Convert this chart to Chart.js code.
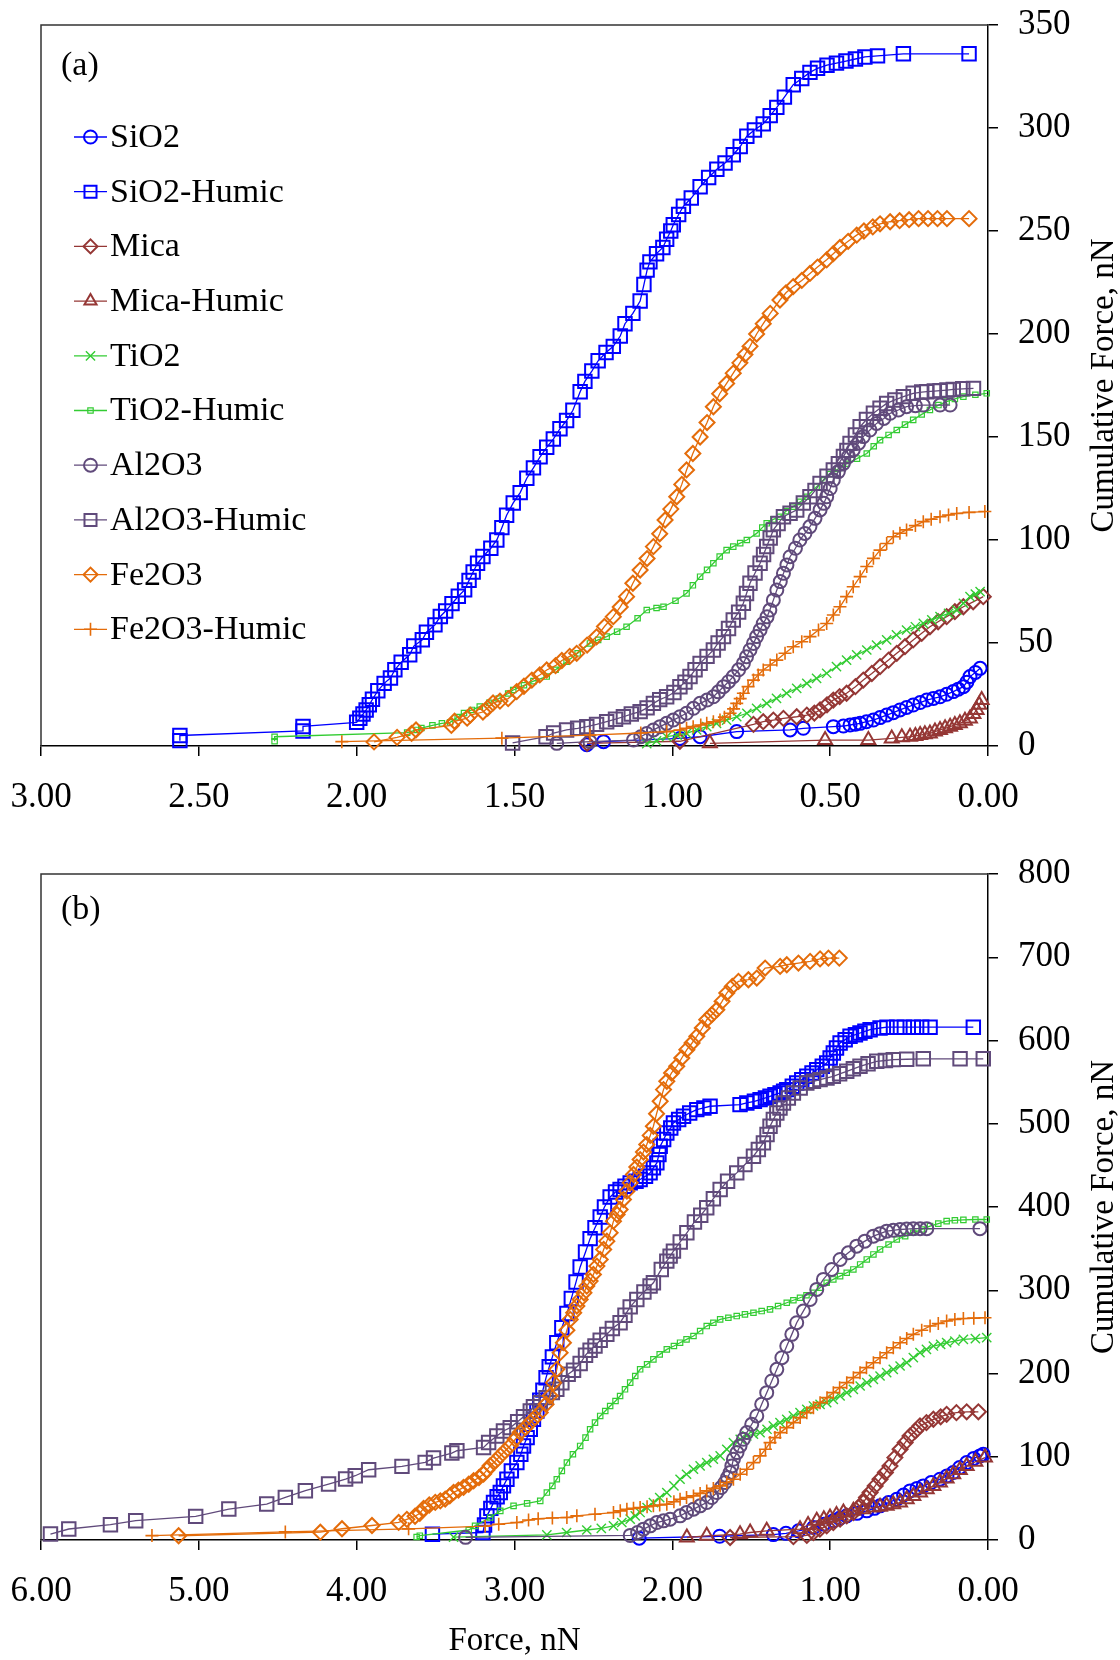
<!DOCTYPE html>
<html><head><meta charset="utf-8">
<script src="https://cdn.jsdelivr.net/npm/chart.js@4/dist/chart.umd.min.js"></script>
<style>
html,body{margin:0;padding:0;background:#fff;}
#wrap{position:relative;width:1120px;height:1660px;background:#fff;}
canvas{position:absolute;left:0;}
#ca{top:0;} #cb{top:840px;}
</style></head><body>
<div id="wrap"><canvas id="ca" width="1120" height="840"></canvas><canvas id="cb" width="1120" height="820"></canvas></div>
<script>
// ---------- categories / labels ----------
const seriesNames = ['SiO2','SiO2-Humic','Mica','Mica-Humic','TiO2','TiO2-Humic','Al2O3','Al2O3-Humic','Fe2O3','Fe2O3-Humic'];
const xTicksA = [0,0.5,1,1.5,2,2.5,3];
const yTicksA = [0,50,100,150,200,250,300,350];
const xTicksB = [0,1,2,3,4,5,6];
const yTicksB = [0,100,200,300,400,500,600,700,800];
const xTitle = 'Force, nN';
const yTitle = 'Cumulative Force, nN';
const panelLabels = ['(a)','(b)'];

// ---------- panel (a) data: [force, cumulative force] ----------
const a_SiO2 = [[1.271,0.6],[1.218,2.1],[0.976,3.7],[0.912,4.5],[0.796,7],[0.627,7.8],[0.585,8.6],[0.49,9.4],[0.458,9.7],[0.437,10.2],[0.42,10.6],[0.405,11],[0.385,11.8],[0.363,12.6],[0.342,13.8],[0.321,15],[0.30,16.2],[0.279,17.5],[0.258,18.7],[0.237,19.9],[0.215,21.1],[0.194,22.3],[0.173,23.1],[0.152,23.9],[0.131,25.1],[0.110,26.4],[0.094,27.6],[0.078,28.8],[0.067,31],[0.057,33.7],[0.04,35.7],[0.025,37.7]];
const a_SiO2_Humic = [[2.56,2.6],[2.56,5.1],[2.17,7.3],[2.17,9.5],[2.00,11.5],[1.99,13.5],[1.98,15.5],[1.97,17.5],[1.96,20],[1.95,22.7],[1.933,26.8],[1.913,30.4],[1.893,33],[1.879,37],[1.859,40.7],[1.832,44.3],[1.819,48.5],[1.792,51.6],[1.779,55.2],[1.752,58.8],[1.735,62.9],[1.718,65.5],[1.698,69.1],[1.678,72.7],[1.658,75.8],[1.644,80.4],[1.631,84.5],[1.617,88.7],[1.60,92],[1.575,96],[1.556,100],[1.54,106],[1.525,112],[1.504,118],[1.482,123],[1.461,130],[1.44,135],[1.419,140.4],[1.398,145],[1.377,149],[1.356,154],[1.335,158],[1.315,163],[1.292,172],[1.277,177],[1.255,182],[1.235,187],[1.21,191],[1.187,194],[1.165,199],[1.15,205],[1.125,210],[1.102,216],[1.09,224],[1.08,231],[1.071,235],[1.05,239],[1.03,242],[1.018,246],[1.005,250],[0.997,253],[0.98,258],[0.965,262],[0.94,266],[0.912,271.5],[0.885,276],[0.859,280],[0.833,283],[0.807,287],[0.785,291],[0.764,296],[0.74,299],[0.712,302],[0.69,306],[0.669,310],[0.645,315],[0.617,321],[0.59,324],[0.564,327],[0.54,329],[0.51,330.5],[0.48,331.5],[0.45,332.5],[0.42,333.5],[0.39,334.5],[0.35,335],[0.268,336],[0.06,336]];
const a_Mica = [[1.27,1.3],[0.976,2.3],[0.743,10.5],[0.712,11.8],[0.68,12.6],[0.648,13.4],[0.606,14.2],[0.574,15],[0.55,16],[0.532,17.5],[0.51,20],[0.490,22.3],[0.47,24],[0.448,25.6],[0.42,28.8],[0.395,32],[0.368,35.2],[0.342,38.5],[0.315,41.7],[0.289,45],[0.263,48.2],[0.237,51.5],[0.21,54.7],[0.184,57.9],[0.158,60.3],[0.131,62.8],[0.105,65.2],[0.078,67.6],[0.047,70],[0.015,72.5]];
const a_Mica_Humic = [[0.881,1.3],[0.516,2.9],[0.379,2.9],[0.305,3.7],[0.273,4.2],[0.247,4.5],[0.23,4.9],[0.215,5.3],[0.2,5.7],[0.184,6.1],[0.168,7],[0.152,7.8],[0.136,8.6],[0.120,9.4],[0.105,10.2],[0.089,11],[0.073,12.2],[0.057,13.4],[0.046,15.5],[0.036,17.5],[0.028,20],[0.020,22.3]];
const a_TiO2 = [[1.081,1.1],[1.05,2.5],[1.018,4.5],[0.985,5.3],[0.955,6.1],[0.923,7.8],[0.891,9.4],[0.86,11],[0.828,12.6],[0.796,14.2],[0.764,15.9],[0.733,18.3],[0.701,20.7],[0.67,23.1],[0.638,25.6],[0.606,28],[0.574,30.4],[0.543,32.8],[0.511,35.3],[0.48,38.5],[0.448,41.7],[0.416,44.2],[0.384,46.6],[0.353,49],[0.321,51.5],[0.29,53.9],[0.258,56.3],[0.23,57.9],[0.205,59.5],[0.178,61.2],[0.152,62.8],[0.125,64.4],[0.099,66],[0.078,69.3],[0.057,72.5],[0.04,73.7],[0.025,74.9]];
const a_TiO2_Humic = [[2.26,2.3],[2.26,4.5],[1.84,6.5],[1.81,7.8],[1.795,8.7],[1.76,10],[1.73,11],[1.704,11.5],[1.68,14],[1.66,16],[1.635,17.5],[1.61,19.1],[1.58,21],[1.55,23],[1.52,25.5],[1.504,27.2],[1.47,29.5],[1.44,31.5],[1.398,33.7],[1.37,37],[1.335,40.9],[1.30,45],[1.261,49.8],[1.235,51.5],[1.208,53.1],[1.175,55.5],[1.145,57.9],[1.11,62],[1.081,66],[1.05,67],[1.028,67.6],[0.99,70.5],[0.955,74.1],[0.935,78],[0.912,82.2],[0.89,85.5],[0.87,88.7],[0.85,92],[0.828,95.1],[0.807,96.8],[0.785,98.5],[0.764,100],[0.733,103.2],[0.715,106],[0.701,108.1],[0.68,110],[0.659,111.3],[0.64,114],[0.617,116.2],[0.595,118.5],[0.574,121],[0.543,125.9],[0.52,129],[0.50,132],[0.475,134.5],[0.448,137],[0.415,139.5],[0.384,142],[0.362,145.5],[0.342,148.5],[0.315,151],[0.289,153.4],[0.263,156],[0.237,158.3],[0.21,161],[0.184,163.1],[0.157,165.5],[0.131,167.2],[0.105,168.5],[0.078,169.6],[0.04,170.5],[0.004,171.2]];
const a_Al2O3 = [[1.366,1.3],[1.261,2.1],[1.123,2.9],[1.10,4.5],[1.081,6.1],[1.06,7.8],[1.039,9.4],[1.018,11],[0.997,12.6],[0.976,14.2],[0.955,15.9],[0.933,18.3],[0.912,20.7],[0.89,22.3],[0.870,23.9],[0.854,26.3],[0.838,28.8],[0.822,31.2],[0.807,33.7],[0.79,37],[0.775,40.1],[0.765,43.3],[0.754,46.6],[0.743,49.8],[0.733,53.1],[0.722,56.3],[0.712,59.5],[0.70,62.7],[0.691,66],[0.68,70.8],[0.669,75.7],[0.658,79.8],[0.648,83.8],[0.637,87.9],[0.627,91.9],[0.61,96],[0.596,100],[0.58,103.2],[0.564,106.5],[0.548,110.5],[0.532,114.6],[0.52,117.8],[0.511,121],[0.50,125],[0.490,129.1],[0.474,133.2],[0.458,137.2],[0.442,140.5],[0.427,143.7],[0.41,147],[0.395,150.2],[0.374,153.4],[0.353,156.6],[0.33,159],[0.310,161.5],[0.284,163.1],[0.258,164.7],[0.23,165.2],[0.205,165.5],[0.152,165.5],[0.120,165.5]];
const a_Al2O3_Humic = [[1.506,1.5],[1.40,4.5],[1.376,6.3],[1.335,7.8],[1.30,8.6],[1.271,9.4],[1.24,10.5],[1.208,11.8],[1.18,13],[1.155,14.2],[1.13,15.5],[1.102,16.7],[1.08,18.5],[1.06,20.7],[1.04,22.5],[1.018,23.9],[0.995,26],[0.976,28.8],[0.96,31],[0.944,33.7],[0.928,37],[0.912,40.1],[0.89,43.5],[0.87,46.6],[0.855,50],[0.838,53.1],[0.822,57],[0.807,61.2],[0.79,65],[0.775,69.3],[0.765,74],[0.754,79],[0.738,84],[0.722,88.7],[0.711,93],[0.701,96.8],[0.69,101],[0.68,104.9],[0.665,108],[0.648,111.3],[0.627,113],[0.606,114.6],[0.585,118],[0.564,121],[0.548,124],[0.532,127.5],[0.51,131],[0.49,134],[0.474,137],[0.458,140.5],[0.447,143.5],[0.437,146.9],[0.42,151],[0.405,155],[0.385,158.5],[0.363,161.5],[0.342,164],[0.321,166.3],[0.295,168],[0.268,169.6],[0.237,171.2],[0.21,171.8],[0.194,172],[0.17,172.3],[0.152,172.5],[0.13,172.8],[0.110,173.1],[0.08,173.4],[0.046,173.6]];
const a_Fe2O3 = [[1.945,2],[1.872,4.2],[1.826,6.1],[1.812,7.8],[1.70,10],[1.69,12],[1.65,13.5],[1.64,15],[1.60,16.5],[1.585,18.4],[1.568,20.9],[1.546,21.8],[1.52,23],[1.493,26.4],[1.47,29],[1.445,32],[1.42,34.5],[1.398,36.9],[1.37,39],[1.35,41.5],[1.325,43.5],[1.303,45],[1.27,49],[1.24,53],[1.215,58],[1.187,62.8],[1.165,67.5],[1.145,72.5],[1.125,79],[1.102,85.4],[1.08,91],[1.06,96.8],[1.04,103],[1.023,109.7],[1.005,115],[0.986,121],[0.97,127],[0.955,134],[0.935,142],[0.912,150],[0.89,157],[0.87,164.7],[0.85,171],[0.828,176],[0.807,181],[0.786,186],[0.77,190],[0.754,194],[0.733,200],[0.712,205],[0.69,210],[0.659,216.5],[0.64,220],[0.617,223],[0.59,226],[0.564,229.4],[0.54,232.5],[0.511,236],[0.49,239],[0.469,242],[0.443,245],[0.416,248],[0.393,250],[0.365,252],[0.342,253.5],[0.31,254.5],[0.28,255],[0.25,255.5],[0.22,256],[0.19,256],[0.16,256],[0.13,256],[0.06,256]];
const a_Fe2O3_Humic = [[2.047,2.1],[1.54,3.8],[1.261,5.3],[1.10,6.3],[1.018,7],[0.976,7.8],[0.955,8.6],[0.934,9.4],[0.91,10.2],[0.891,11],[0.87,11.8],[0.849,12.6],[0.835,14],[0.817,15.9],[0.806,18],[0.796,20.7],[0.785,23],[0.775,25.6],[0.76,28.8],[0.743,32],[0.728,34.5],[0.712,36.9],[0.69,39.3],[0.669,41.7],[0.643,45],[0.617,48.2],[0.59,50.6],[0.564,53.1],[0.537,56.3],[0.511,59.5],[0.49,63.6],[0.469,67.6],[0.448,72.5],[0.427,77.3],[0.405,82.2],[0.384,87.1],[0.363,91.1],[0.342,95.1],[0.321,98.3],[0.300,101.6],[0.279,103.3],[0.258,104.9],[0.23,107],[0.205,108.9],[0.18,110.1],[0.152,111.3],[0.125,112.1],[0.099,112.9],[0.06,113.4],[0.01,113.8]];

// ---------- panel (b) data ----------
const b_SiO2 = [[2.21,2.2],[1.70,4.5],[1.36,6.5],[1.28,8],[1.20,11],[1.106,15],[1.04,19],[0.98,23],[0.94,26],[0.895,29],[0.83,32],[0.768,35],[0.72,38],[0.684,41],[0.63,45],[0.578,49],[0.535,54],[0.494,59],[0.45,62],[0.41,65],[0.36,69],[0.304,73],[0.26,77],[0.22,81],[0.18,87],[0.135,93],[0.09,98],[0.051,101],[0.03,103]];
const b_SiO2_Humic = [[3.52,7],[3.20,9],[3.19,18],[3.175,29],[3.15,38],[3.133,45],[3.11,52],[3.09,57],[3.07,65],[3.048,73],[3.02,83],[2.985,93],[2.96,103],[2.943,113],[2.92,123],[2.90,133],[2.88,145],[2.858,155],[2.84,168],[2.82,180],[2.80,195],[2.78,208],[2.76,220],[2.732,237],[2.70,255],[2.668,272],[2.64,290],[2.61,310],[2.584,328],[2.55,346],[2.521,362],[2.49,375],[2.457,388],[2.43,400],[2.394,412],[2.36,418],[2.331,421],[2.30,425],[2.267,429],[2.23,431],[2.204,433],[2.17,437],[2.141,441],[2.12,447],[2.098,453],[2.085,463],[2.077,473],[2.055,481],[2.035,489],[2.01,495],[1.993,501],[1.96,505],[1.929,509],[1.89,513],[1.845,517],[1.80,519],[1.761,521],[1.571,523],[1.528,525],[1.48,527],[1.444,529],[1.41,531],[1.381,533],[1.35,535],[1.317,537],[1.295,539],[1.275,541],[1.24,545],[1.212,549],[1.18,553],[1.148,557],[1.115,561],[1.085,565],[1.05,569],[1.022,573],[1.00,579],[0.98,585],[0.96,591],[0.937,597],[0.905,601],[0.874,605],[0.84,607],[0.811,609],[0.78,611],[0.747,613],[0.684,615],[0.64,616],[0.578,616],[0.53,616],[0.473,616],[0.42,616],[0.367,616],[0.093,616]];
const b_Mica = [[1.634,3],[1.233,4],[1.148,5.5],[1.106,9],[1.065,13],[1.022,17],[0.98,21],[0.937,25],[0.895,29],[0.853,33],[0.82,39],[0.79,45],[0.77,51],[0.747,57],[0.715,65],[0.684,73],[0.65,81],[0.621,89],[0.59,99],[0.557,109],[0.525,117],[0.494,125],[0.46,131],[0.431,137],[0.39,141],[0.346,145],[0.30,148],[0.262,151],[0.2,153],[0.135,154],[0.061,154]];
const b_Mica_Humic = [[1.908,3],[1.782,5],[1.571,7],[1.507,9],[1.402,11],[1.191,13],[1.14,18],[1.085,23],[1.04,25],[1.001,27],[0.96,30],[0.916,33],[0.853,35],[0.79,37],[0.726,39],[0.684,40],[0.642,41],[0.60,43],[0.557,45],[0.515,49],[0.473,53],[0.43,57],[0.388,61],[0.346,65],[0.304,69],[0.262,74],[0.22,79],[0.178,84],[0.135,89],[0.08,94],[0.019,99]];
const b_TiO2 = [[3.386,3.4],[2.795,6.2],[2.67,9],[2.542,12],[2.45,14],[2.373,17],[2.32,21],[2.267,25],[2.235,29],[2.204,33],[2.16,39],[2.12,45],[2.08,51],[2.035,57],[1.99,65],[1.951,73],[1.91,79],[1.866,85],[1.824,89],[1.782,93],[1.74,97],[1.697,101],[1.655,109],[1.613,117],[1.57,121],[1.528,125],[1.486,127],[1.444,129],[1.40,133],[1.36,137],[1.318,141],[1.275,145],[1.233,149],[1.191,153],[1.148,157],[1.106,161],[1.064,163],[1.022,165],[0.98,169],[0.937,173],[0.895,177],[0.853,181],[0.81,185],[0.768,189],[0.726,193],[0.684,197],[0.642,201],[0.60,205],[0.557,209],[0.515,213],[0.473,219],[0.431,225],[0.39,229],[0.346,233],[0.30,235],[0.262,237],[0.21,239],[0.156,241],[0.08,242],[0.008,243]];
const b_TiO2_Humic = [[3.62,3.6],[3.60,5.2],[3.29,12],[3.25,17],[3.154,27],[3.09,35],[3.006,41],[2.92,44],[2.837,47],[2.795,57],[2.76,65],[2.732,73],[2.70,83],[2.668,93],[2.63,103],[2.584,113],[2.55,123],[2.521,133],[2.49,141],[2.457,149],[2.425,155],[2.394,161],[2.36,167],[2.331,173],[2.30,181],[2.267,189],[2.235,197],[2.204,205],[2.16,211],[2.12,217],[2.08,223],[2.035,229],[1.99,233],[1.951,237],[1.91,241],[1.866,245],[1.824,251],[1.782,257],[1.74,261],[1.697,265],[1.645,267],[1.592,269],[1.54,271],[1.486,273],[1.434,275],[1.381,277],[1.33,281],[1.275,285],[1.233,288],[1.191,291],[1.15,294],[1.106,297],[1.064,303],[1.022,309],[0.98,313],[0.937,317],[0.895,321],[0.853,325],[0.81,331],[0.768,337],[0.726,343],[0.684,349],[0.63,355],[0.578,361],[0.525,365],[0.473,369],[0.42,373],[0.367,377],[0.315,380],[0.262,383],[0.21,384],[0.156,384.5],[0.08,385],[0.008,385]];
const b_Al2O3 = [[3.31,3.2],[2.267,5.5],[2.22,9],[2.183,13],[2.14,17],[2.098,21],[2.056,23],[2.014,25],[1.951,29],[1.91,33],[1.866,37],[1.824,41],[1.782,45],[1.75,51],[1.718,57],[1.69,63],[1.666,69],[1.65,75],[1.634,81],[1.623,89],[1.613,97],[1.59,105],[1.571,113],[1.55,121],[1.528,129],[1.497,139],[1.465,149],[1.434,163],[1.402,177],[1.37,191],[1.338,205],[1.306,219],[1.275,233],[1.243,247],[1.212,261],[1.17,275],[1.127,289],[1.085,301],[1.043,313],[0.99,325],[0.937,337],[0.885,345],[0.832,353],[0.78,359],[0.726,365],[0.684,368],[0.642,371],[0.60,372],[0.557,373],[0.515,373.5],[0.473,374],[0.43,374],[0.388,374],[0.051,374]];
const b_Al2O3_Humic = [[5.94,7.2],[5.824,13.2],[5.56,18.4],[5.40,23.2],[5.02,28.4],[4.81,37.2],[4.57,43.2],[4.452,51.2],[4.325,59.2],[4.178,67.2],[4.07,73.2],[4.009,77.2],[3.924,84.4],[3.713,88.4],[3.566,93.2],[3.513,98.4],[3.397,104.4],[3.365,107.2],[3.196,111.2],[3.164,117.2],[3.112,125],[3.07,131],[3.027,135],[2.98,142],[2.943,148],[2.90,155],[2.88,160],[2.837,165],[2.80,171],[2.76,177],[2.732,181],[2.70,189],[2.66,199],[2.626,204],[2.584,212],[2.55,222],[2.521,228],[2.49,233],[2.457,240],[2.415,247],[2.38,254],[2.331,261],[2.30,270],[2.267,280],[2.225,289],[2.18,298],[2.141,305],[2.12,309],[2.07,325],[2.035,335],[2.014,341],[1.993,347],[1.95,358],[1.908,369],[1.86,382],[1.82,390],[1.782,399],[1.74,410],[1.697,421],[1.65,431],[1.592,441],[1.54,451],[1.486,461],[1.455,469],[1.423,477],[1.40,487],[1.381,497],[1.36,505],[1.338,513],[1.318,519],[1.296,525],[1.265,531],[1.233,537],[1.19,543],[1.148,549],[1.106,551],[1.064,553],[1.02,555],[0.98,557],[0.94,560],[0.895,563],[0.853,566],[0.811,569],[0.76,572],[0.705,575],[0.65,576],[0.6,577],[0.515,577.5],[0.41,578],[0.177,578],[0.03,578]];
const b_Fe2O3 = [[5.128,5.1],[4.23,9.4],[4.093,13.5],[3.903,17.4],[3.734,21.1],[3.682,24.8],[3.63,28.5],[3.60,32],[3.576,38],[3.54,42],[3.502,45.2],[3.47,47],[3.439,49.2],[3.41,53],[3.386,57.2],[3.355,60],[3.323,63.2],[3.29,67],[3.259,71.2],[3.225,75],[3.196,79.2],[3.175,84],[3.154,89.2],[3.12,95],[3.09,101.2],[3.06,107],[3.027,113.2],[2.995,121],[2.964,129.2],[2.93,135],[2.9,141.2],[2.87,147],[2.837,153.2],[2.80,163],[2.774,173.2],[2.753,189],[2.732,205],[2.711,225],[2.69,237],[2.668,252],[2.647,265],[2.625,273],[2.605,281],[2.584,289],[2.56,297],[2.542,305],[2.521,311],[2.50,319],[2.478,329],[2.457,337],[2.435,349],[2.415,359],[2.394,369],[2.373,383],[2.35,391],[2.331,397],[2.31,409],[2.288,419],[2.267,429],[2.246,439],[2.225,448],[2.204,457],[2.183,466],[2.162,475],[2.14,486],[2.12,497],[2.10,512],[2.077,527],[2.056,541],[2.035,551],[2.005,561],[1.972,569],[1.94,579],[1.908,589],[1.875,597],[1.845,605],[1.81,615],[1.782,625],[1.75,631],[1.718,637],[1.685,647],[1.655,657],[1.62,665],[1.581,671],[1.518,673],[1.465,675],[1.412,687],[1.317,689],[1.275,691],[1.201,693],[1.127,695],[1.064,698],[1.011,699],[0.942,699]];
const b_Fe2O3_Humic = [[5.297,5.3],[4.452,9.7],[3.671,13.4],[3.186,16.6],[3.10,19],[2.985,21],[2.911,24],[2.85,25.5],[2.76,26.5],[2.668,27],[2.605,29],[2.49,31],[2.373,33],[2.33,35],[2.288,37],[2.246,38],[2.204,39],[2.16,40],[2.12,41],[2.08,42],[2.035,43],[1.99,46],[1.951,49],[1.91,51],[1.866,53],[1.824,56],[1.782,59],[1.74,62],[1.697,65],[1.655,69],[1.613,73],[1.57,79],[1.528,85],[1.486,93],[1.444,101],[1.41,109],[1.381,117],[1.35,123],[1.317,129],[1.275,135],[1.233,141],[1.19,147],[1.148,153],[1.106,159],[1.064,165],[1.02,171],[0.98,177],[0.94,183],[0.895,189],[0.853,195],[0.811,201],[0.77,207],[0.726,213],[0.684,219],[0.642,225],[0.60,231],[0.557,237],[0.515,242],[0.473,247],[0.42,252],[0.367,257],[0.315,260],[0.262,263],[0.21,265],[0.156,266],[0.09,266.5],[0.019,267]];

const panelA = [a_SiO2,a_SiO2_Humic,a_Mica,a_Mica_Humic,a_TiO2,a_TiO2_Humic,a_Al2O3,a_Al2O3_Humic,a_Fe2O3,a_Fe2O3_Humic];
const panelB = [b_SiO2,b_SiO2_Humic,b_Mica,b_Mica_Humic,b_TiO2,b_TiO2_Humic,b_Al2O3,b_Al2O3_Humic,b_Fe2O3,b_Fe2O3_Humic];

// ---------- styles ----------
const STYLE = [
  {color:'#0000FF', shape:'circle',   r:6.5, bw:2},
  {color:'#0000FF', shape:'rect',     r:9.5, bw:2},
  {color:'#953735', shape:'rectRot',  r:7.5, bw:2},
  {color:'#953735', shape:'triangle', r:8,   bw:2},
  {color:'#33CC33', shape:'crossRot', r:6.5, bw:1.4},
  {color:'#33CC33', shape:'rect',     r:3.8, bw:1.2},
  {color:'#604A7B', shape:'circle',   r:6.5, bw:2},
  {color:'#604A7B', shape:'rect',     r:9.5, bw:2},
  {color:'#E46C0A', shape:'rectRot',  r:7.5, bw:2},
  {color:'#E46C0A', shape:'cross',    r:6.5, bw:1.6}
];
const FONT = "'Liberation Serif', 'Times New Roman', serif";

function drawMarker(ctx, shape, x, y, r) {
  ctx.beginPath();
  if (shape === 'circle') { ctx.arc(x, y, r, 0, Math.PI * 2); }
  else if (shape === 'rect') { const s = r * Math.SQRT1_2; ctx.rect(x - s, y - s, 2 * s, 2 * s); }
  else if (shape === 'rectRot') { ctx.moveTo(x - r, y); ctx.lineTo(x, y - r); ctx.lineTo(x + r, y); ctx.lineTo(x, y + r); ctx.closePath(); }
  else if (shape === 'triangle') { const a = 2 * Math.PI / 3; ctx.moveTo(x, y - r); ctx.lineTo(x + Math.sin(a) * r, y - Math.cos(a) * r); ctx.lineTo(x + Math.sin(2 * a) * r, y - Math.cos(2 * a) * r); ctx.closePath(); }
  else if (shape === 'cross') { ctx.moveTo(x - r, y); ctx.lineTo(x + r, y); ctx.moveTo(x, y - r); ctx.lineTo(x, y + r); }
  else if (shape === 'crossRot') { const d = r * Math.SQRT1_2; ctx.moveTo(x - d, y - d); ctx.lineTo(x + d, y + d); ctx.moveTo(x - d, y + d); ctx.lineTo(x + d, y - d); }
  ctx.stroke();
}

function makeDatasets(panel) {
  return panel.map((arr, i) => ({
    label: seriesNames[i],
    data: arr.map(p => ({x: p[0], y: p[1]})),
    showLine: true,
    borderColor: STYLE[i].color,
    borderWidth: 1.3,
    pointStyle: STYLE[i].shape,
    pointRadius: STYLE[i].r,
    pointBorderWidth: STYLE[i].bw,
    pointBorderColor: STYLE[i].color,
    pointBackgroundColor: 'rgba(0,0,0,0)',
    pointHoverRadius: STYLE[i].r,
    tension: 0,
    clip: false,
    order: 20 - i
  }));
}

function framePlugin(opts) {
  return {
    id: 'frame',
    afterDraw(chart) {
      const ctx = chart.ctx, ca = chart.chartArea;
      ctx.save();
      ctx.strokeStyle = '#333'; ctx.lineWidth = 1.5;
      ctx.beginPath();
      ctx.moveTo(ca.left, ca.bottom); ctx.lineTo(ca.left, ca.top); ctx.lineTo(ca.right, ca.top);
      ctx.stroke();
      ctx.fillStyle = '#000';
      ctx.font = '34px ' + FONT;
      ctx.textAlign = 'left'; ctx.textBaseline = 'middle';
      ctx.fillText(opts.label, 61, opts.labelY);
      ctx.save();
      ctx.translate(1104, (ca.top + ca.bottom) / 2);
      ctx.rotate(-Math.PI / 2);
      ctx.textAlign = 'center'; ctx.textBaseline = 'middle';
      ctx.font = '33px ' + FONT;
      ctx.fillText(yTitle, 0, 0);
      ctx.restore();
      if (opts.xTitle) {
        ctx.textAlign = 'center'; ctx.textBaseline = 'middle';
        ctx.font = '33px ' + FONT;
        ctx.fillText(xTitle, (ca.left + ca.right) / 2, opts.xTitleY);
      }
      if (opts.legend) {
        const x0 = 74, x1 = 107, xm = 90.5, tx = 110, y0 = 137, dy = 54.7;
        seriesNames.forEach((name, i) => {
          const y = y0 + i * dy, st = STYLE[i];
          ctx.strokeStyle = st.color; ctx.lineWidth = 1.3;
          ctx.beginPath(); ctx.moveTo(x0, y); ctx.lineTo(x1, y); ctx.stroke();
          ctx.lineWidth = st.bw;
          drawMarker(ctx, st.shape, xm, y, st.shape === 'rect' && st.r > 5 ? 8.5 : Math.min(st.r, 7));
          ctx.fillStyle = '#000';
          ctx.font = '34px ' + FONT;
          ctx.textAlign = 'left'; ctx.textBaseline = 'middle';
          ctx.fillText(name, tx, y + 1);
        });
      }
      ctx.restore();
    }
  };
}

function makeChart(id, datasets, xTicks, yTicks, xMax, yMax, padTop, xAxisH, plugOpts) {
  return new Chart(document.getElementById(id), {
    type: 'scatter',
    data: {datasets},
    options: {
      responsive: false, animation: false, devicePixelRatio: 1,
      layout: {padding: {left: 41, top: padTop, right: 0, bottom: 0}},
      plugins: {legend: {display: false}, tooltip: {enabled: false}},
      events: [],
      scales: {
        x: {
          type: 'linear', position: 'bottom', reverse: true, min: 0, max: xMax,
          afterBuildTicks: s => { s.ticks = xTicks.map(v => ({value: v})); },
          afterFit: s => { s.height = xAxisH; s.paddingLeft = 0; s.paddingRight = 0; },
          grid: {display: true, drawOnChartArea: false, drawTicks: true, tickLength: 10, color: '#000', lineWidth: 1.5},
          border: {display: true, color: '#000', width: 1.5},
          ticks: {autoSkip: false, maxRotation: 0, padding: 21, color: '#000',
                  font: {family: FONT, size: 35}, callback: v => Number(v).toFixed(2)}
        },
        y: {
          type: 'linear', position: 'right', min: 0, max: yMax,
          afterBuildTicks: s => { s.ticks = yTicks.map(v => ({value: v})); },
          afterFit: s => { s.width = 132; s.paddingTop = 0; s.paddingBottom = 0; },
          grid: {display: true, drawOnChartArea: false, drawTicks: true, tickLength: 10, color: '#000', lineWidth: 1.5},
          border: {display: true, color: '#000', width: 1.5},
          ticks: {autoSkip: false, padding: 20, color: '#000',
                  font: {family: FONT, size: 35}, callback: v => String(v)}
        }
      }
    },
    plugins: [framePlugin(plugOpts)]
  });
}

makeChart('ca', makeDatasets(panelA), xTicksA, yTicksA, 3, 350, 25, 94,
  {label: panelLabels[0], labelY: 66, legend: true, xTitle: false});
makeChart('cb', makeDatasets(panelB), xTicksB, yTicksB, 6, 800, 34, 120,
  {label: panelLabels[1], labelY: 70, legend: false, xTitle: true, xTitleY: 801});
</script>
</body></html>
